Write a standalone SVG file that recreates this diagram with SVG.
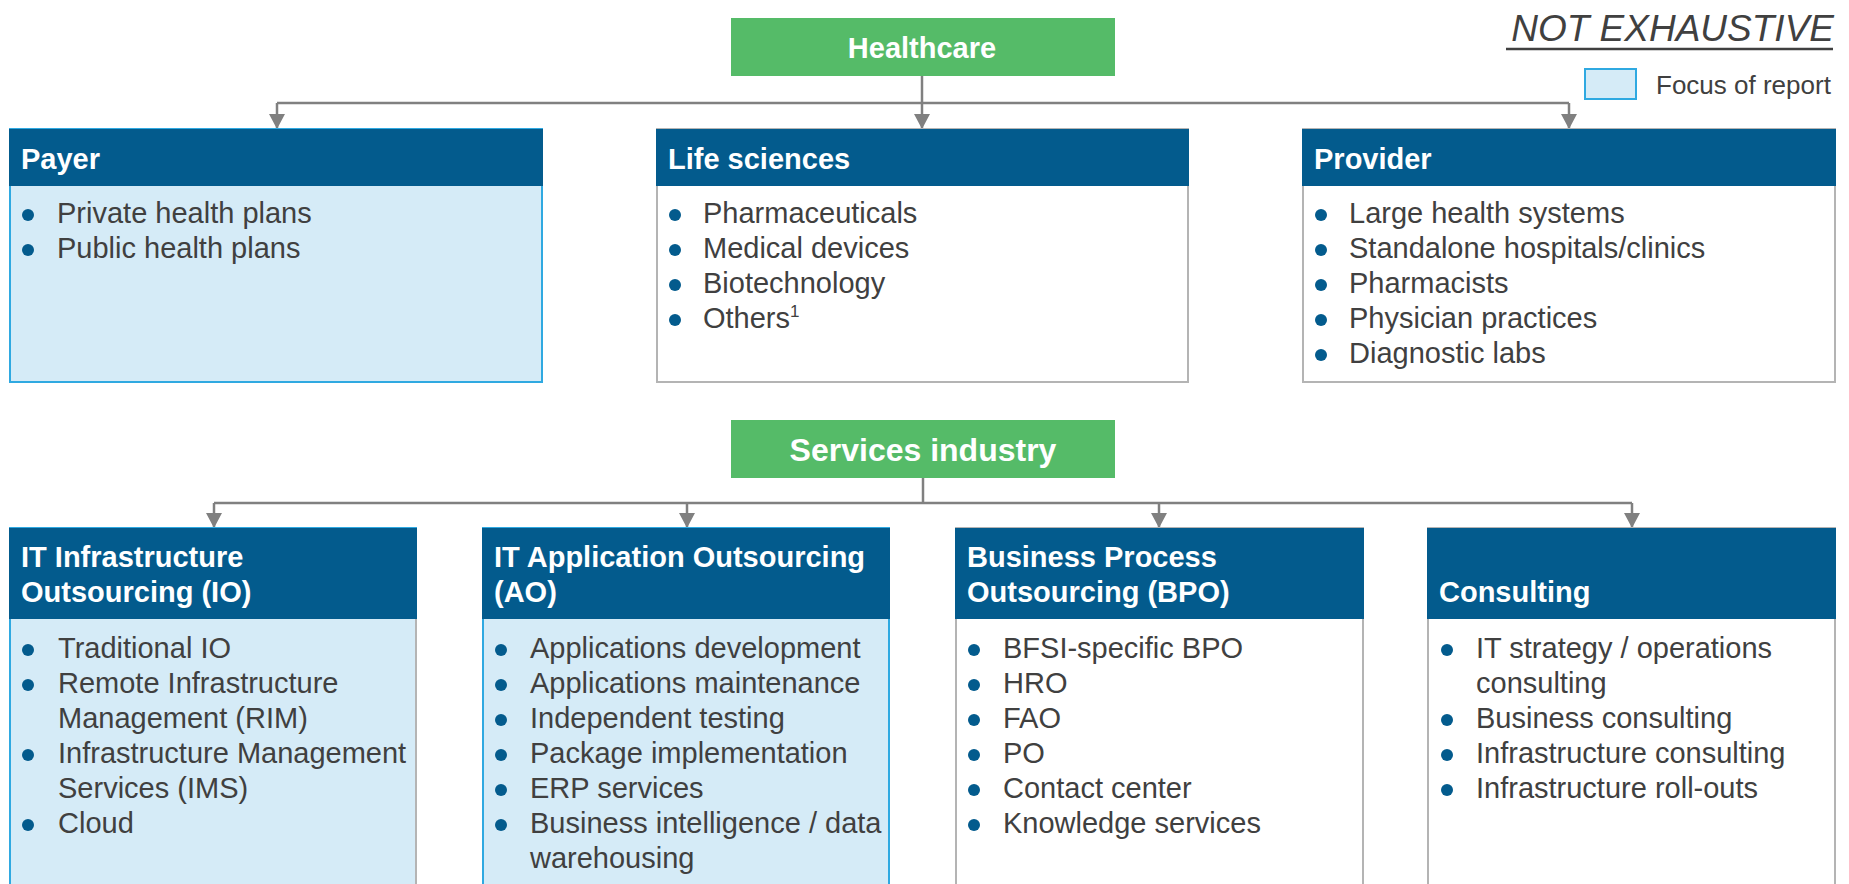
<svg xmlns="http://www.w3.org/2000/svg" width="1849" height="884" viewBox="0 0 1849 884">
<defs>
<style>
.hdr{fill:#035B8D}
.green{fill:#55BB68}
.focus{fill:#D5EBF7;stroke:#2FA9E1;stroke-width:2}
.plain{fill:#FFFFFF;stroke:#B4B4B4;stroke-width:2}
.ht{font-family:"Liberation Sans",Arial,sans-serif;font-weight:bold;font-size:29px;fill:#FFFFFF}
.gt{font-family:"Liberation Sans",Arial,sans-serif;font-weight:bold;fill:#FFFFFF;text-anchor:middle}
.bt{font-family:"Liberation Sans",Arial,sans-serif;font-size:29px;fill:#404040}
.dot{fill:#035B8D}
.conn{fill:none;stroke:#808080;stroke-width:2.5}
</style>
<marker id="arr" viewBox="0 0 15 16" refX="15" refY="8" markerWidth="15" markerHeight="16" markerUnits="userSpaceOnUse" orient="auto">
<polygon points="0,0 15,8 0,16" fill="#808080"/>
</marker>
</defs>
<rect width="1849" height="884" fill="#FFFFFF"/>

<g id="legend">
<text x="1834" y="41" text-anchor="end" font-family="'Liberation Sans',Arial,sans-serif" font-style="italic" font-size="37" fill="#404040">NOT EXHAUSTIVE</text>
<line x1="1506" y1="49" x2="1833" y2="49" stroke="#404040" stroke-width="2.5"/>
<rect x="1585" y="69" width="51" height="30" class="focus"/>
<text x="1656" y="94" font-family="'Liberation Sans',Arial,sans-serif" font-size="26" fill="#404040">Focus of report</text>
</g>

<g id="connectors">
<path class="conn" d="M277,103 H1569"/>
<path class="conn" d="M922,76 V129" marker-end="url(#arr)"/>
<path class="conn" d="M277,103 V129" marker-end="url(#arr)"/>
<path class="conn" d="M1569,103 V129" marker-end="url(#arr)"/>
<path class="conn" d="M214,503 H1632"/>
<path class="conn" d="M923,478 V503"/>
<path class="conn" d="M214,503 V528" marker-end="url(#arr)"/>
<path class="conn" d="M687,503 V528" marker-end="url(#arr)"/>
<path class="conn" d="M1159,503 V528" marker-end="url(#arr)"/>
<path class="conn" d="M1632,503 V528" marker-end="url(#arr)"/>
</g>

<g id="healthcare">
<rect x="731" y="18" width="384" height="58" class="green"/>
<text x="922" y="58" class="gt" font-size="29">Healthcare</text>
</g>

<g id="payer">
<rect x="10" y="129" width="532" height="253" class="focus"/>
<rect x="9" y="129" width="534" height="57" class="hdr"/>
<text x="21" y="169" class="ht">Payer</text>
<circle cx="28" cy="215" r="6" class="dot"/><text x="57" y="223" class="bt">Private health plans</text>
<circle cx="28" cy="250" r="6" class="dot"/><text x="57" y="258" class="bt">Public health plans</text>
</g>

<g id="life-sciences">
<rect x="657" y="129" width="531" height="253" class="plain"/>
<rect x="656" y="129" width="533" height="57" class="hdr"/>
<text x="668" y="169" class="ht">Life sciences</text>
<circle cx="675" cy="215" r="6" class="dot"/><text x="703" y="223" class="bt">Pharmaceuticals</text>
<circle cx="675" cy="250" r="6" class="dot"/><text x="703" y="258" class="bt">Medical devices</text>
<circle cx="675" cy="285" r="6" class="dot"/><text x="703" y="293" class="bt">Biotechnology</text>
<circle cx="675" cy="320" r="6" class="dot"/><text x="703" y="328" class="bt">Others<tspan font-size="17" dy="-11">1</tspan></text>
</g>

<g id="provider">
<rect x="1303" y="129" width="532" height="253" class="plain"/>
<rect x="1302" y="129" width="534" height="57" class="hdr"/>
<text x="1314" y="169" class="ht">Provider</text>
<circle cx="1321" cy="215" r="6" class="dot"/><text x="1349" y="223" class="bt">Large health systems</text>
<circle cx="1321" cy="250" r="6" class="dot"/><text x="1349" y="258" class="bt">Standalone hospitals/clinics</text>
<circle cx="1321" cy="285" r="6" class="dot"/><text x="1349" y="293" class="bt">Pharmacists</text>
<circle cx="1321" cy="320" r="6" class="dot"/><text x="1349" y="328" class="bt">Physician practices</text>
<circle cx="1321" cy="355" r="6" class="dot"/><text x="1349" y="363" class="bt">Diagnostic labs</text>
</g>

<g id="services-industry">
<rect x="731" y="420" width="384" height="58" class="green"/>
<text x="923" y="461" class="gt" font-size="32">Services industry</text>
</g>

<g id="io">
<rect x="10" y="528" width="406" height="380" class="focus"/>
<line x1="416" y1="619" x2="416" y2="900" stroke="#B4B4B4" stroke-width="2"/>
<rect x="9" y="528" width="408" height="91" class="hdr"/>
<text x="21" y="567" class="ht">IT Infrastructure</text>
<text x="21" y="602" class="ht">Outsourcing (IO)</text>
<circle cx="28" cy="650" r="6" class="dot"/><text x="58" y="658" class="bt">Traditional IO</text>
<circle cx="28" cy="685" r="6" class="dot"/><text x="58" y="693" class="bt">Remote Infrastructure</text>
<text x="58" y="728" class="bt">Management (RIM)</text>
<circle cx="28" cy="755" r="6" class="dot"/><text x="58" y="763" class="bt">Infrastructure Management</text>
<text x="58" y="798" class="bt">Services (IMS)</text>
<circle cx="28" cy="825" r="6" class="dot"/><text x="58" y="833" class="bt">Cloud</text>
</g>

<g id="ao">
<rect x="483" y="528" width="406" height="380" class="focus"/>
<rect x="482" y="528" width="408" height="91" class="hdr"/>
<text x="494" y="567" class="ht">IT Application Outsourcing</text>
<text x="494" y="602" class="ht">(AO)</text>
<circle cx="501" cy="650" r="6" class="dot"/><text x="530" y="658" class="bt">Applications development</text>
<circle cx="501" cy="685" r="6" class="dot"/><text x="530" y="693" class="bt">Applications maintenance</text>
<circle cx="501" cy="720" r="6" class="dot"/><text x="530" y="728" class="bt">Independent testing</text>
<circle cx="501" cy="755" r="6" class="dot"/><text x="530" y="763" class="bt">Package implementation</text>
<circle cx="501" cy="790" r="6" class="dot"/><text x="530" y="798" class="bt">ERP services</text>
<circle cx="501" cy="825" r="6" class="dot"/><text x="530" y="833" class="bt">Business intelligence / data</text>
<text x="530" y="868" class="bt">warehousing</text>
</g>

<g id="bpo">
<rect x="956" y="528" width="407" height="380" class="plain"/>
<rect x="955" y="528" width="409" height="91" class="hdr"/>
<text x="967" y="567" class="ht">Business Process</text>
<text x="967" y="602" class="ht">Outsourcing (BPO)</text>
<circle cx="974" cy="650" r="6" class="dot"/><text x="1003" y="658" class="bt">BFSI-specific BPO</text>
<circle cx="974" cy="685" r="6" class="dot"/><text x="1003" y="693" class="bt">HRO</text>
<circle cx="974" cy="720" r="6" class="dot"/><text x="1003" y="728" class="bt">FAO</text>
<circle cx="974" cy="755" r="6" class="dot"/><text x="1003" y="763" class="bt">PO</text>
<circle cx="974" cy="790" r="6" class="dot"/><text x="1003" y="798" class="bt">Contact center</text>
<circle cx="974" cy="825" r="6" class="dot"/><text x="1003" y="833" class="bt">Knowledge services</text>
</g>

<g id="consulting">
<rect x="1428" y="528" width="407" height="380" class="plain"/>
<rect x="1427" y="528" width="409" height="91" class="hdr"/>
<text x="1439" y="602" class="ht">Consulting</text>
<circle cx="1447" cy="650" r="6" class="dot"/><text x="1476" y="658" class="bt">IT strategy / operations</text>
<text x="1476" y="693" class="bt">consulting</text>
<circle cx="1447" cy="720" r="6" class="dot"/><text x="1476" y="728" class="bt">Business consulting</text>
<circle cx="1447" cy="755" r="6" class="dot"/><text x="1476" y="763" class="bt">Infrastructure consulting</text>
<circle cx="1447" cy="790" r="6" class="dot"/><text x="1476" y="798" class="bt">Infrastructure roll-outs</text>
</g>
</svg>
